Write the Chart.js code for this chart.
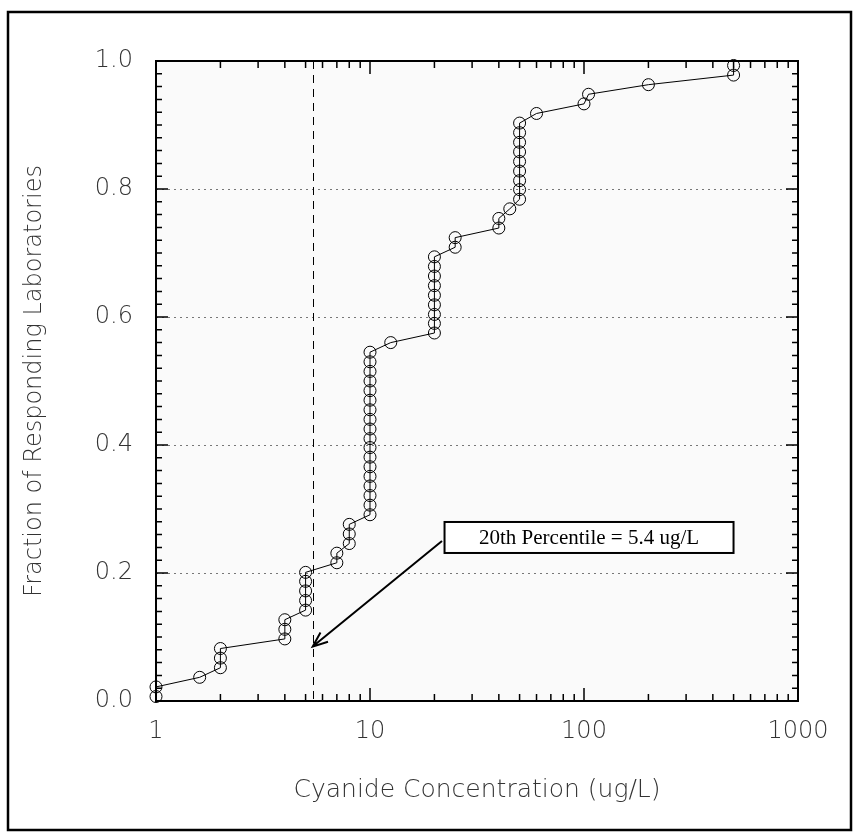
<!DOCTYPE html>
<html>
<head>
<meta charset="utf-8">
<script src="https://cdn.jsdelivr.net/npm/chart.js@4/dist/chart.umd.min.js"></script>
<style>
	html, body { margin: 0; padding: 0; background: #fff; }
	#wrap { width: 859px; height: 837px; position: relative; }
</style>
</head>
<body>
<div id="wrap"><canvas id="cdf" width="859" height="837"></canvas></div>
<script>
// cyanide concentration reported by each lab (ug/L), sorted
const concentrations = [
	1, 1, 1.6, 2, 2, 2, 4, 4, 4,
	5, 5, 5, 5, 5, 7, 7, 8, 8, 8,
	10, 10, 10, 10, 10, 10, 10, 10, 10, 10, 10, 10, 10, 10, 10, 10, 10, 10,
	12.5,
	20, 20, 20, 20, 20, 20, 20, 20, 20,
	25, 25, 40, 40, 45,
	50, 50, 50, 50, 50, 50, 50, 50, 50,
	60, 100, 105, 200, 500, 500,
];

// fraction of responding laboratories at each point
const fractions = [
	0.007, 0.022, 0.037, 0.052, 0.067, 0.082, 0.097, 0.112, 0.127,
	0.142, 0.157, 0.172, 0.187, 0.201, 0.216, 0.231, 0.246, 0.261, 0.276,
	0.291, 0.306, 0.321, 0.336, 0.351, 0.366, 0.381, 0.396, 0.410, 0.425,
	0.440, 0.455, 0.470, 0.485, 0.500, 0.515, 0.530, 0.545,
	0.560,
	0.575, 0.590, 0.604, 0.619, 0.634, 0.649, 0.664, 0.679, 0.694,
	0.709, 0.724, 0.739, 0.754, 0.769,
	0.784, 0.799, 0.813, 0.828, 0.843, 0.858, 0.873, 0.888, 0.903,
	0.918, 0.933, 0.948, 0.963, 0.978, 0.993,
];

const xTickValues = [1, 10, 100, 1000];
const yTickValues = [0, 0.2, 0.4, 0.6, 0.8, 1.0];
const percentile20 = 5.4;
const noteText = "20th Percentile = 5.4 ug/L";

const tickFont = { family: "'DejaVu Sans', sans-serif", size: 24, weight: 200 };
const xTitleFont = { family: "'DejaVu Sans', sans-serif", size: 25, weight: 200 };
const yTitleFont = { family: "'DejaVu Sans', sans-serif", size: 24, weight: 200 };
const labelColor = "#333";

const plotExtras = {
	id: "plotExtras",
	beforeDraw(chart) {
		const { ctx, chartArea: a } = chart;
		ctx.save();
		ctx.fillStyle = "#fff";
		ctx.fillRect(0, 0, chart.width, chart.height);
		ctx.fillStyle = "#fafafa";
		ctx.fillRect(a.left, a.top, a.right - a.left, a.bottom - a.top);

		// dotted grid
		const y = chart.scales.y;
		ctx.strokeStyle = "#777";
		ctx.lineWidth = 1;
		ctx.setLineDash([2, 4]);
		for (const v of yTickValues) {
			if (v <= 0 || v >= 1) continue;
			const py = Math.round(y.getPixelForValue(v)) + 0.5;
			ctx.beginPath();
			ctx.moveTo(a.left, py);
			ctx.lineTo(a.right, py);
			ctx.stroke();
		}

		// dashed line at the 20th percentile
		const x = chart.scales.x;
		const px = Math.round(x.getPixelForValue(percentile20)) + 0.5;
		ctx.strokeStyle = "#000";
		ctx.setLineDash([8, 6]);
		ctx.beginPath();
		ctx.moveTo(px, a.top);
		ctx.lineTo(px, a.bottom);
		ctx.stroke();
		ctx.restore();
	},
	afterDraw(chart) {
		const { ctx, chartArea: a } = chart;
		const x = chart.scales.x;
		const y = chart.scales.y;
		ctx.save();
		ctx.strokeStyle = "#000";

		// inward tick marks
		ctx.lineWidth = 1.5;
		ctx.beginPath();
		for (let i = 0; i <= 50; i++) {
			const py = y.getPixelForValue(i * 0.02);
			const len = i % 10 === 0 ? 12 : 6;
			ctx.moveTo(a.left, py);
			ctx.lineTo(a.left + len, py);
			ctx.moveTo(a.right, py);
			ctx.lineTo(a.right - len, py);
		}
		for (let d = 1; d < 1000; d *= 10) {
			for (let m = 1; m <= 9; m++) {
				const px = x.getPixelForValue(d * m);
				const len = m === 1 ? 13 : 7;
				ctx.moveTo(px, a.bottom);
				ctx.lineTo(px, a.bottom - len);
				ctx.moveTo(px, a.top);
				ctx.lineTo(px, a.top + len);
			}
		}
		ctx.stroke();

		// plot frame
		ctx.lineWidth = 2;
		ctx.strokeRect(a.left, a.top, a.right - a.left, a.bottom - a.top);

		// annotation arrow
		const tipX = x.getPixelForValue(percentile20);
		const tipY = y.getPixelForValue(0.085);
		const tailX = x.getPixelForValue(21.7);
		const tailY = y.getPixelForValue(0.25);
		ctx.lineWidth = 2;
		ctx.beginPath();
		ctx.moveTo(tailX, tailY);
		ctx.lineTo(tipX, tipY);
		const ang = Math.atan2(tailY - tipY, tailX - tipX);
		const head = 16;
		ctx.moveTo(tipX + head * Math.cos(ang - 0.38), tipY + head * Math.sin(ang - 0.38));
		ctx.lineTo(tipX, tipY);
		ctx.lineTo(tipX + head * Math.cos(ang + 0.38), tipY + head * Math.sin(ang + 0.38));
		ctx.stroke();

		// annotation box
		const bx = x.getPixelForValue(22.3);
		const by = y.getPixelForValue(0.2555);
		const bw = 289, bh = 31;
		ctx.fillStyle = "#fff";
		ctx.fillRect(bx, by - bh / 2, bw, bh);
		ctx.strokeRect(bx, by - bh / 2, bw, bh);
		ctx.fillStyle = "#000";
		ctx.font = "21px 'Liberation Serif', serif";
		ctx.textAlign = "center";
		ctx.textBaseline = "middle";
		ctx.fillText(noteText, bx + bw / 2, by + 1);

		// outer figure border
		ctx.lineWidth = 2.5;
		ctx.strokeRect(8, 12, 843, 818);
		ctx.restore();
	},
};

new Chart(document.getElementById("cdf"), {
	type: "line",
	data: {
		datasets: [
			{
				data: concentrations.map((c, i) => ({ x: c, y: fractions[i] })),
				borderColor: "#000",
				borderWidth: 1,
				tension: 0,
				fill: false,
				pointStyle: "circle",
				pointRadius: 6,
				pointBorderWidth: 1,
				pointBorderColor: "#000",
				pointBackgroundColor: "rgba(0,0,0,0)",
				clip: false,
			},
		],
	},
	options: {
		responsive: false,
		animation: false,
		events: [],
		layout: { padding: { left: 10, top: 61, right: 61, bottom: 20 } },
		plugins: {
			legend: { display: false },
			tooltip: { enabled: false },
		},
		scales: {
			x: {
				type: "logarithmic",
				min: 1,
				max: 1000,
				grid: { display: false, drawTicks: false },
				border: { display: false },
				afterBuildTicks: (scale) => {
					scale.ticks = xTickValues.map((v) => ({ value: v }));
				},
				afterFit: (scale) => {
					scale.height = 116;
				},
				ticks: {
					font: tickFont,
					color: labelColor,
					padding: 16,
					maxRotation: 0,
					callback: (value) => String(value),
				},
				title: {
					display: true,
					text: "Cyanide Concentration (ug/L)",
					font: xTitleFont,
					color: labelColor,
					padding: { top: 0, bottom: 12 },
				},
			},
			y: {
				min: 0,
				max: 1,
				grid: { display: false, drawTicks: false },
				border: { display: false },
				afterBuildTicks: (scale) => {
					scale.ticks = yTickValues.map((v) => ({ value: v }));
				},
				afterFit: (scale) => {
					scale.width = 146;
				},
				ticks: {
					font: tickFont,
					color: labelColor,
					padding: 23,
					callback: (value) => value.toFixed(1),
				},
				title: {
					display: true,
					text: "Fraction of Responding Laboratories",
					font: yTitleFont,
					color: labelColor,
					padding: { top: 10, bottom: 0 },
				},
			},
		},
	},
	plugins: [plotExtras],
});
</script>
</body>
</html>
